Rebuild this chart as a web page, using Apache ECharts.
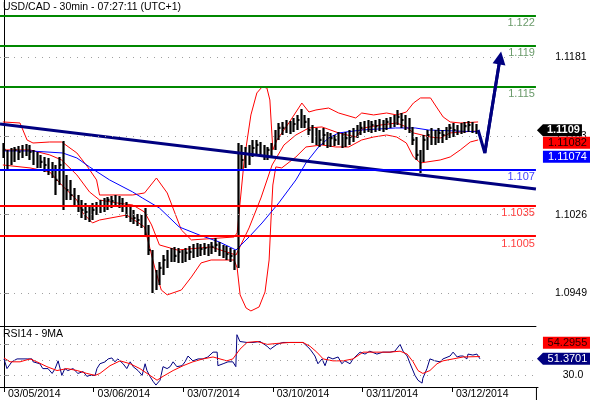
<!DOCTYPE html>
<html><head><meta charset="utf-8">
<script src="https://cdn.jsdelivr.net/npm/echarts@6/dist/echarts.min.js"></script>
<style>html,body{margin:0;padding:0;background:#fff}#c{width:590px;height:400px}</style>
</head><body><div id="c"></div>
<script>
const FONT = '"Liberation Sans", Arial, sans-serif';
// x unit: hours since 03/05/2014 00:00 (trading hours)
const dayLabels = ['03/05/2014','03/06/2014','03/07/2014','03/10/2014','03/11/2014','03/12/2014'];
const dayTicks = [0,24,48,72,96,120];
const highs = [1.10964,1.10896,1.10915,1.10925,1.10935,1.10945,1.10954,1.10945,1.10896,1.10876,1.10847,1.10827,1.10817,1.10778,1.10748,1.10827,1.10984,1.10650,1.10601,1.10522,1.10453,1.10404,1.10375,1.10355,
1.10375,1.10384,1.10404,1.10424,1.10434,1.10443,1.10453,1.10443,1.10424,1.10384,1.10355,1.10306,1.10266,1.10256,1.10325,1.10158,1.09912,1.09716,1.09795,1.09863,1.09912,1.09932,1.09942,1.09932,
1.09912,1.09932,1.09952,1.09971,1.09981,1.09971,1.09981,1.09971,1.09991,1.10030,1.09991,1.09962,1.09952,1.09932,1.09912,1.10964,1.10945,1.10925,1.10945,1.10994,1.10994,1.10974,1.10945,1.10925,
1.10964,1.11092,1.11161,1.11171,1.11190,1.11181,1.11210,1.11240,1.11299,1.11240,1.11210,1.11141,1.11112,1.11092,1.11112,1.11072,1.11063,1.11043,1.11072,1.11063,1.11072,1.11092,1.11112,1.11141,
1.11171,1.11181,1.11190,1.11181,1.11190,1.11200,1.11190,1.11210,1.11220,1.11240,1.11289,1.11259,1.11240,1.11210,1.11122,1.11023,1.10896,1.11043,1.11092,1.11112,1.11092,1.11112,1.11092,1.11122,
1.11151,1.11161,1.11141,1.11161,1.11171,1.11181,1.11171,1.11151];
const lows = [1.10817,1.10699,1.10748,1.10778,1.10797,1.10817,1.10837,1.10797,1.10748,1.10719,1.10719,1.10680,1.10650,1.10620,1.10453,1.10551,1.10306,1.10404,1.10404,1.10355,1.10286,1.10227,1.10207,1.10188,
1.10207,1.10256,1.10276,1.10286,1.10306,1.10325,1.10335,1.10325,1.10286,1.10227,1.10188,1.10168,1.10148,1.10129,1.10060,1.09863,1.09490,1.09519,1.09568,1.09667,1.09736,1.09795,1.09795,1.09785,
1.09785,1.09795,1.09814,1.09834,1.09844,1.09854,1.09863,1.09854,1.09873,1.09893,1.09854,1.09834,1.09814,1.09795,1.09716,1.09736,1.10699,1.10719,1.10748,1.10827,1.10847,1.10827,1.10797,1.10797,
1.10817,1.10896,1.10994,1.11043,1.11063,1.11053,1.11072,1.11092,1.11112,1.11112,1.11043,1.10964,1.10945,1.10925,1.10945,1.10915,1.10925,1.10935,1.10945,1.10915,1.10925,1.10945,1.10974,1.11013,
1.11043,1.11063,1.11072,1.11063,1.11072,1.11082,1.11072,1.11092,1.11112,1.11122,1.11141,1.11112,1.11092,1.11063,1.10945,1.10797,1.10670,1.10778,1.10896,1.10945,1.10945,1.10964,1.10964,1.10994,
1.11013,1.11023,1.11043,1.11053,1.11063,1.11072,1.11063,1.11053];
const closes = [1.10896,1.10847,1.10876,1.10896,1.10876,1.10915,1.10896,1.10876,1.10827,1.10797,1.10778,1.10748,1.10699,1.10680,1.10601,1.10748,1.10601,1.10502,1.10453,1.10424,1.10355,1.10306,1.10286,1.10306,
1.10306,1.10345,1.10365,1.10375,1.10404,1.10394,1.10414,1.10375,1.10345,1.10306,1.10256,1.10227,1.10207,1.10188,1.10129,1.09912,1.09568,1.09616,1.09736,1.09814,1.09863,1.09873,1.09854,1.09893,
1.09854,1.09883,1.09893,1.09912,1.09912,1.09922,1.09932,1.09912,1.09942,1.09962,1.09912,1.09893,1.09873,1.09854,1.09795,1.10847,1.10797,1.10847,1.10876,1.10915,1.10945,1.10896,1.10876,1.10896,
1.10945,1.11043,1.11112,1.11112,1.11141,1.11122,1.11151,1.11190,1.11210,1.11171,1.11092,1.11043,1.11013,1.10994,1.11043,1.10994,1.11013,1.10994,1.11013,1.10994,1.11013,1.11023,1.11063,1.11092,
1.11112,1.11122,1.11131,1.11141,1.11131,1.11151,1.11141,1.11171,1.11181,1.11200,1.11220,1.11190,1.11161,1.11122,1.10994,1.10847,1.10748,1.10994,1.11043,1.11063,1.11033,1.11063,1.11043,1.11082,
1.11112,1.11092,1.11112,1.11122,1.11131,1.11141,1.11122,1.11092];
const maLine = [[-0.3,1.10886],[7,1.10886],[15.8,1.10866],[19.6,1.10817],[23,1.10729],[28.4,1.10601],[34.6,1.10483],[37.2,1.10424],[41.8,1.10325],[47.1,1.10139],[52.5,1.10060],[57.9,1.09991],[62.4,1.09912],[65.9,1.10040],[69.4,1.10178],[73.9,1.10375],[78.5,1.10601],[81.2,1.10768],[84.6,1.10925],[87.3,1.11013],[90,1.11063],[96.2,1.11092],[105.3,1.11112],[110.6,1.11112],[114.1,1.11092],[127.5,1.11074]];
const bbUpper = [[-0.3,1.11171],[4.3,1.11161],[6.2,1.10994],[7.8,1.10964],[12.3,1.10974],[15.5,1.10974],[19.6,1.10866],[22.5,1.10729],[24.9,1.10601],[25.7,1.10453],[34.6,1.10453],[37.8,1.10473],[41,1.10620],[43.9,1.10473],[47.7,1.10109],[50.4,1.10011],[61.9,1.10040],[62.7,1.10080],[64.6,1.10797],[66.4,1.11240],[68,1.11456],[69.4,1.11515],[70.7,1.11505],[71.5,1.11387],[72.3,1.10896],[73.4,1.10994],[76.6,1.11161],[80.1,1.11357],[82,1.11269],[83.9,1.11289],[87.3,1.11308],[90,1.11259],[94.6,1.11210],[96.2,1.11259],[99.4,1.11240],[102.9,1.11259],[105.6,1.11240],[108.2,1.11269],[110.1,1.11357],[112,1.11407],[114.7,1.11407],[116.3,1.11318],[118.1,1.11220],[120,1.11171],[122.7,1.11161],[127.5,1.11171]];
const bbMiddle = [[-0.3,1.10896],[7,1.10896],[12.3,1.10847],[15.5,1.10797],[19.6,1.10650],[23,1.10483],[25.7,1.10404],[30.3,1.10375],[34.6,1.10355],[37.8,1.10286],[39.7,1.10158],[41.8,1.09962],[46.6,1.09912],[55.7,1.09942],[62.4,1.09863],[65.9,1.10129],[69.1,1.10424],[72.1,1.10748],[75.3,1.10945],[78.5,1.11043],[82,1.11112],[85.5,1.11122],[90,1.11063],[94.6,1.11023],[96.7,1.11112],[101.3,1.11141],[105.6,1.11161],[108.2,1.11122],[110.1,1.11063],[114.7,1.11023],[117.3,1.11013],[120,1.11063],[122.7,1.11072],[127.5,1.11082]];
const bbLower = [[-0.3,1.10748],[7,1.10719],[12.3,1.10680],[15.5,1.10551],[19.6,1.10404],[21.2,1.10276],[23.8,1.10178],[25.7,1.10207],[33,1.10256],[37.8,1.10139],[40.5,1.09745],[42.3,1.09519],[43.9,1.09471],[47.7,1.09519],[50.4,1.09647],[53,1.09785],[55.7,1.09814],[61.9,1.09814],[62.7,1.09736],[63.5,1.09471],[65.1,1.09342],[66.4,1.09313],[68.6,1.09352],[70.2,1.09500],[71.3,1.09814],[71.8,1.10207],[72.3,1.10551],[73.1,1.10729],[74.7,1.10719],[78.5,1.10827],[81.2,1.10925],[85.5,1.10945],[89.2,1.10925],[92.7,1.10925],[96.2,1.10994],[99.4,1.11023],[102.9,1.11043],[105.6,1.11023],[108.2,1.10964],[110.1,1.10827],[112,1.10768],[117.3,1.10797],[120,1.10827],[122.7,1.10896],[125.4,1.10974],[127.5,1.10994]];
const trendLine = [[-1.07,1.11151],[143.05,1.10512]];
const forecast = [[127.5,1.11092],[129.3,1.10866],[133.4,1.11800]];
const levelValues = [1.1222,1.1192,1.1152,1.107,1.1035,1.1005];
const levelLabels = ['1.122','1.119','1.115','1.107','1.1035','1.1005'];
const priceTicks = [1.1181,1.11035,1.1026,1.0949];
const rsiTicks = [30,50,70];
const rsi = [[0,51.25],[0.8,38.75],[2.1,47.5],[3.5,51.25],[6.2,51.25],[7.5,51.25],[7.8,47.5],[9.6,45],[10.4,38.75],[11.8,38.75],[12.9,32.5],[13.7,38.75],[14.5,48.75],[15.5,30],[16.3,38.75],[17.1,36.25],[18.5,38.75],[19.8,32.5],[21.2,35],[22.2,28.75],[23,30],[24.4,30],[24.9,38.75],[25.7,45],[27.1,47.5],[27.9,51.25],[28.9,52.5],[29.7,47.5],[30.5,51.25],[31.9,45],[32.9,38.75],[33.8,47.5],[34.6,41.25],[35.9,36.25],[37,30],[37.8,45],[38.3,36.25],[39.1,28.75],[39.9,22.5],[40.7,17.5],[41.8,23.75],[42.6,41.25],[43.7,38.75],[44.5,41.25],[45.3,47.5],[46.3,41.25],[47.7,42.5],[48.5,47.5],[49.3,55],[50.6,48.75],[52,51.25],[53.3,51.25],[54.6,53.75],[56,60],[57.1,60],[57.3,42.5],[58.7,45],[60,47.5],[61.3,47.5],[62.1,41.25],[62.4,82.5],[63.2,73.75],[65.1,72.5],[66.7,72.5],[68.6,73.75],[70.5,67.5],[71.3,63.75],[73.1,70],[74.7,72.5],[76.6,72.5],[78.5,72.5],[80.1,72.5],[81.2,67.5],[82,63.75],[83.3,55],[84.1,45],[85.2,51.25],[86,42.5],[86.8,53.75],[88.1,51.25],[89.5,53.75],[90.5,45],[91.3,48.75],[92.7,45],[93.5,51.25],[95.4,60],[96.7,57.5],[98,61.25],[99.9,57.5],[101.5,60],[103.4,60],[104.7,61.25],[106.1,70],[106.9,61.25],[108,55],[108.8,45],[110.1,30],[110.9,23.75],[112,20],[112.2,26.25],[113.3,38.75],[114.1,51.25],[115.5,48.75],[116.8,47.5],[117.6,51.25],[119.5,55],[120.3,60],[121.4,53.75],[122.2,55],[123,55],[124,51.25],[124.3,57.5],[125.6,56.25],[126.7,57.5],[127.5,51.37]];
const rsiMa = [[0,52.5],[1.6,47.5],[4.3,47.5],[7,51.25],[8.8,47.5],[11.5,41.25],[14.2,36.25],[16.9,38.75],[19.6,36.25],[22.2,32.5],[24.4,30],[25.7,32.5],[28.4,42.5],[31.1,48.75],[33.8,45],[36.4,38.75],[39.1,30],[41,23.75],[42.6,28.75],[45.3,36.25],[48,42.5],[50.6,47.5],[53.3,51.25],[56,53.75],[59.7,48.75],[61.3,51.25],[63.2,63.75],[65.1,72.5],[67.8,73.75],[70.5,70],[73.1,71.25],[76.6,72.5],[80.1,72.5],[82,67.5],[83.8,60],[85.5,51.25],[88.1,48.75],[90.8,48.75],[93.5,51.25],[96.2,60],[99.9,60],[103.4,60],[106.1,61.25],[108,57.5],[109.6,47.5],[110.9,36.25],[112.2,32.5],[114.1,36.25],[116,45],[117.6,48.75],[120.3,51.25],[123,53.75],[127.5,54.3]];
const lastPrice = 1.1109, lastBbMid = 1.11082, lastMa = 1.11074;
const lastRsi = 51.3701, lastRsiMa = 54.2955;

const chart = echarts.init(document.getElementById('c'));
const xMin = -1.07, xMax = 143.05;
const ohlc = closes.map((c, i) => [i, c, c, lows[i], highs[i]]);
const levelColors = ['#008800','#008800','#008800','#0000ff','#ff0000','#ff0000'];
const levelTextColors = ['#6a9a6a','#6a9a6a','#6a9a6a','#4040ff','#ff4040','#ff4040'];
const dotted = {color:'#a0a0a0', type:[1,6], width:1};
const FS = 10.5;
const ax = {fontFamily: FONT, fontSize: FS, color: '#000'};
const titleStyle = {fontSize:FS, fontWeight:'normal', color:'#000', fontFamily:FONT};

chart.setOption({
  animation: false,
  textStyle: {fontFamily: FONT},
  title: [
    {text:'USD/CAD - 30min - 07:27:11 (UTC+1)', left:3, top:2, padding:0, textStyle:titleStyle},
    {text:'RSI14 - 9MA', left:3, top:329, padding:0, textStyle:titleStyle}
  ],
  grid: [{left:0, right:52, top:0, height:326}, {left:0, right:52, top:326, height:63}],
  xAxis: [
    {gridIndex:0, type:'value', min:xMin, max:xMax, axisLine:{show:true, onZero:false, lineStyle:{color:'#000'}}, axisTick:{show:false}, axisLabel:{show:false}, splitLine:{show:false}},
    {gridIndex:1, type:'value', min:xMin, max:xMax, axisLine:{show:true, onZero:false, lineStyle:{color:'#000'}},
     axisTick:{show:true, customValues:dayTicks, length:5, lineStyle:{color:'#000'}},
     axisLabel:Object.assign({customValues:dayTicks, formatter:v => dayLabels[Math.round(v/24)], align:'left', margin:2, padding:[0,0,0,4]}, ax),
     splitLine:{show:false}}
  ],
  yAxis: [
    {gridIndex:0, type:'value', position:'right', min:1.09165, max:1.1237, axisLine:{show:true, lineStyle:{color:'#000'}},
     axisTick:{show:true, customValues:priceTicks, length:5, lineStyle:{color:'#888'}},
     axisLabel:Object.assign({customValues:priceTicks, formatter:v => v.toFixed(4), align:'center', margin:35}, ax), splitLine:{show:false}},
    {gridIndex:1, type:'value', position:'right', min:15, max:93.75, axisLine:{show:true, lineStyle:{color:'#000'}},
     axisTick:{show:true, customValues:rsiTicks, length:5, lineStyle:{color:'#888'}},
     axisLabel:Object.assign({customValues:rsiTicks, formatter:v => v.toFixed(1), align:'center', margin:35}, ax), splitLine:{show:false}}
  ],
  series: [
    {type:'line', name:'bbU', data:bbUpper, symbol:'none', lineStyle:{color:'#ff0000', width:1}, z:2,
     markLine:{silent:true, precision:6, symbol:['none','none'], label:{show:false}, lineStyle:dotted, data: priceTicks.map(v => ({yAxis:v}))}},
    {type:'line', name:'bbM', data:bbMiddle, symbol:'none', lineStyle:{color:'#ff0000', width:1}, z:2},
    {type:'line', name:'bbL', data:bbLower, symbol:'none', lineStyle:{color:'#ff0000', width:1}, z:2},
    {type:'line', name:'ma', data:maLine, symbol:'none', lineStyle:{color:'#0000ff', width:1}, z:2},
    {type:'candlestick', name:'price', data:ohlc, encode:{x:0, y:[1,2,3,4]}, barWidth:3, z:3,
     itemStyle:{color:'#000', color0:'#000', borderColor:'#000', borderColor0:'#000', borderWidth:2.2}},
    {type:'line', name:'trend', data:trendLine, symbol:'none', lineStyle:{color:'#000080', width:3}, z:4,
     markLine:{silent:true, precision:6, symbol:['none','none'],
       data: levelValues.map((v, i) => ({yAxis:v, lineStyle:{color:levelColors[i], width:2, type:'solid'},
         label:{show:true, position:'insideEndBottom', distance:[1,2], formatter:levelLabels[i], color:levelTextColors[i], fontSize:11, fontFamily:FONT}}))}},
    {type:'line', name:'forecast', data:forecast, symbol:'none', lineStyle:{color:'#000080', width:3}, z:5},
    {type:'lines', coordinateSystem:'cartesian2d', z:5, symbol:['none','triangle'], symbolSize:13,
     lineStyle:{color:'#000080', width:3, opacity:1}, data:[{coords:[forecast[1], forecast[2]]}]},
    {type:'line', name:'rsi', xAxisIndex:1, yAxisIndex:1, data:rsi, symbol:'none', lineStyle:{color:'#000080', width:1}, z:3,
     markLine:{silent:true, precision:6, symbol:['none','none'], label:{show:false}, lineStyle:dotted, data: rsiTicks.map(v => ({yAxis:v}))}},
    {type:'line', name:'rsiMa', xAxisIndex:1, yAxisIndex:1, data:rsiMa, symbol:'none', lineStyle:{color:'#ff0000', width:1}, z:3}
  ]
});

// value boxes on the right axis, placed through the axis scales
const axisX = chart.convertToPixel({xAxisIndex:0}, xMax);
function box(cy, text, bg, fg, arrow, right, bold) {
  const h = 12, x0 = axisX + 7;
  const pts = arrow ? [[axisX + 1, cy], [x0, cy - h/2], [right, cy - h/2], [right, cy + h/2], [x0, cy + h/2]]
                    : [[x0, cy - h/2], [right, cy - h/2], [right, cy + h/2], [x0, cy + h/2]];
  return [
    {type:'polygon', z:200, zlevel:1, shape:{points:pts}, style:{fill:bg}},
    {type:'text', z:201, zlevel:1, style:{text:text, x:(x0 + right)/2 + 1, y:cy, fill:fg, font:(bold ? 'bold ' : '') + '11px ' + FONT, textAlign:'center', textVerticalAlign:'middle'}}
  ];
}
const y1 = chart.convertToPixel({yAxisIndex:0}, lastPrice);
const y2 = Math.max(chart.convertToPixel({yAxisIndex:0}, lastBbMid), y1 + 12.5);
const y3 = Math.max(chart.convertToPixel({yAxisIndex:0}, lastMa), y2 + 14);
const r1 = chart.convertToPixel({yAxisIndex:1}, lastRsi);
const r2 = Math.min(chart.convertToPixel({yAxisIndex:1}, lastRsiMa), r1 - 16);
const yBottom = chart.convertToPixel({yAxisIndex:1}, 15);
chart.setOption({graphic:[].concat(
  box(y1, lastPrice.toFixed(4), '#000', '#fff', true, axisX + 46, true),
  box(y2, lastBbMid.toFixed(5), '#ff0000', '#200000', false, 590, false),
  box(y3, lastMa.toFixed(5), '#0000ff', '#fff', false, 590, false),
  box(r2, lastRsiMa.toFixed(4), '#ff0000', '#300000', false, 590, false),
  box(r1, lastRsi.toFixed(4), '#000080', '#fff', true, 590, false),
  [{type:'line', shape:{x1:axisX + 0.5, y1:yBottom, x2:axisX + 0.5, y2:400}, style:{stroke:'#000', lineWidth:1}}]
)});
</script></body></html>
